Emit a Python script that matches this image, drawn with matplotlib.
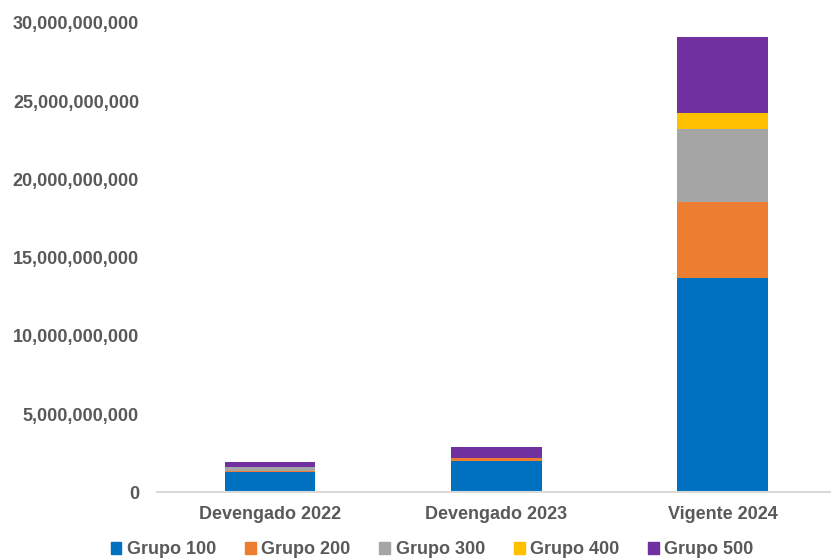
import numpy as np
import matplotlib.pyplot as plt
from matplotlib.ticker import FuncFormatter
from matplotlib.patches import Patch

categories = ['Devengado 2022', 'Devengado 2023', 'Vigente 2024']
grupos = ['Grupo 100', 'Grupo 200', 'Grupo 300', 'Grupo 400', 'Grupo 500']
grupo_100 = [1.30e9, 1.98e9, 13.69e9]
grupo_200 = [0.03e9, 0.19e9, 4.88e9]
grupo_300 = [0.27e9, 0.02e9, 4.65e9]
grupo_400 = [0.01e9, 0.01e9, 1.03e9]
grupo_500 = [0.33e9, 0.70e9, 4.84e9]
colores = ['#0070C0', '#ED7D31', '#A5A5A5', '#FFC000', '#7030A0']

plt.rcParams['font.family'] = ['Liberation Sans', 'DejaVu Sans']
texto = '#595959'

fig = plt.figure(figsize=(8.31, 5.6), dpi=100)
ax = fig.add_axes([0.189, 0.121, 0.811, 0.838])

x = np.arange(len(categories))
fondo = np.zeros(len(categories))
for serie, nombre, color in zip([grupo_100, grupo_200, grupo_300, grupo_400, grupo_500], grupos, colores):
    ax.bar(x, serie, bottom=fondo, width=0.4, color=color, label=nombre)
    fondo += np.array(serie)

ax.set_xlim(-0.5, 2.48)
ax.set_ylim(0, 30e9)
ax.set_yticks(np.arange(0, 30e9 + 1, 5e9))
ax.yaxis.set_major_formatter(FuncFormatter(lambda v, p: f'{v:,.0f}'))
ax.set_xticks(x)
ax.set_xticklabels(categories)
ax.tick_params(axis='both', length=0, labelsize=13, labelcolor=texto)
ax.tick_params(axis='x', pad=10)
ax.tick_params(axis='y', pad=13)
for lab in ax.get_xticklabels() + ax.get_yticklabels():
    lab.set_fontweight('bold')

for s in ['top', 'right', 'left']:
    ax.spines[s].set_visible(False)
ax.spines['bottom'].set_color('#d9d9d9')
ax.spines['bottom'].set_linewidth(1.5)

handles = [Patch(color=c) for c in colores]
leg = fig.legend(handles, grupos, loc='center', bbox_to_anchor=(0.52, 0.018), ncol=5,
                 frameon=False, handlelength=0.6, handleheight=0.6, handletextpad=0.3,
                 columnspacing=1.6, prop={'size': 13, 'weight': 'bold'})
for t in leg.get_texts():
    t.set_color(texto)

fig.savefig('out.png', dpi=100)
